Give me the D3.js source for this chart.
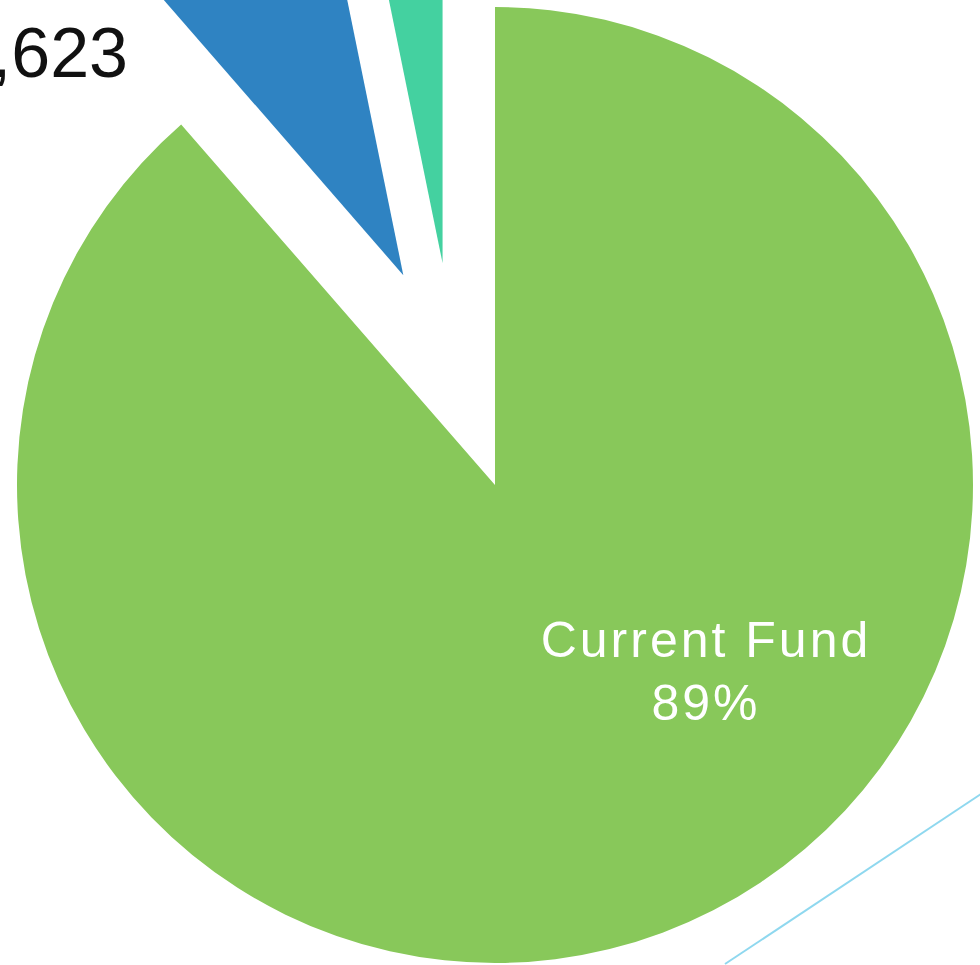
<!DOCTYPE html>
<html>
<head>
<meta charset="utf-8">
<script src="https://cdn.jsdelivr.net/npm/d3@7"></script>
<style>
  html, body { margin: 0; padding: 0; background: #fff; overflow: hidden; }
  svg { display: block; }
</style>
</head>
<body>
<div id="chart"></div>
<script>
(function(){
	"use strict";

	// chart data
	var categories = ["Current Fund", "Other Fund A", "Other Fund B"];
	var shares     = [88.6, 8.2, 3.2];
	var colors     = ["#88C85A", "#2F83C2", "#44D1A0"];
	var totalLabel = ",623";

	var width = 980, height = 965;
	var cx = 495, cy = 485, radius = 478;

	// exploded slices: distance and direction (deg, clockwise from top)
	var explodeDist  = [0, 229, 228];
	var explodeAngle = [0, 336.4, 346.7];

	var svg = d3.select("#chart").append("svg")
		.attr("width", width)
		.attr("height", height);

	var pie = d3.pie().sort(null).value(function(d){ return d; });
	var arc = d3.arc().innerRadius(0).outerRadius(radius);
	var arcs = pie(shares);

	var g = svg.append("g").attr("transform", "translate(" + cx + "," + cy + ")");

	g.selectAll("path")
		.data(arcs)
		.enter()
		.append("path")
		.attr("d", arc)
		.attr("fill", function(d, i){ return colors[i]; })
		.attr("transform", function(d, i){
			var a = explodeAngle[i] * Math.PI / 180;
			return "translate(" + (Math.sin(a) * explodeDist[i]) + "," + (-Math.cos(a) * explodeDist[i]) + ")";
		});

	// label for the big slice
	var lab = g.append("text")
		.attr("text-anchor", "middle")
		.attr("fill", "#fff")
		.style("font-family", "'Liberation Sans', Arial, sans-serif")
		.style("font-size", "50px")
		.style("letter-spacing", "3px")
		.attr("transform", "translate(211,172)");
	lab.append("tspan").attr("x", 0).attr("y", 0).text(categories[0]);
	lab.append("tspan").attr("x", 0).attr("y", 63).text(Math.round(shares[0]) + "%");

	// total text, cut at the left edge
	svg.append("text")
		.attr("x", 128)
		.attr("y", 77)
		.attr("text-anchor", "end")
		.attr("fill", "#111")
		.style("font-family", "'Liberation Sans', Arial, sans-serif")
		.style("font-size", "70px")
		.text(totalLabel);

	// leader line running off the bottom right
	svg.append("line")
		.attr("x1", 725).attr("y1", 964)
		.attr("x2", 981).attr("y2", 794)
		.attr("stroke", "#8FD8EF")
		.attr("stroke-width", 2);

})();
</script>
</body>
</html>
